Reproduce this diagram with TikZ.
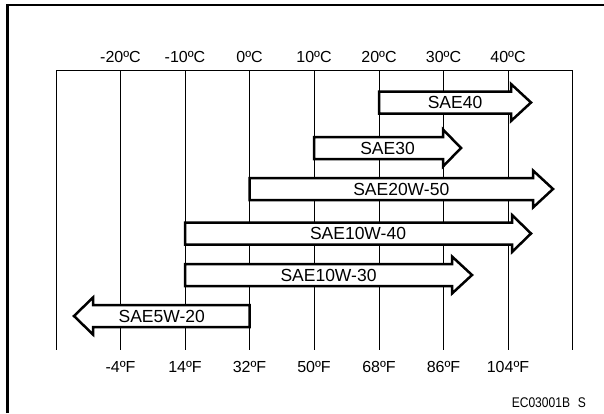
\documentclass[tikz,border=0pt]{standalone}
\usepackage{fontspec}
\setmainfont{Liberation Sans}
\usepackage{tikz}
\def\oilarrow[#1](#2:#3:#4:#5)#6#7{\draw[#1] (#2,#5-11) -- (#3,#5-11) -- (#3,#5-18.5) -- (#4,#5) -- (#3,#5+18.5) -- (#3,#5+11) -- (#2,#5+11) -- cycle; \node[inner sep=0pt] (#6) at ({(#2+#4)/2},#5) {\fontsize{17.5}{20}\selectfont #7};}

\begin{document}
\begin{tikzpicture}[x=1pt, y=-1pt]
			%%%%% START %%%%%
			\useasboundingbox (0, 0) rectangle (604, 413);
			
			\draw[line width=2.5pt] (7.5, 413) -- (7.5, 5) -- (604, 5);
			
			\draw[line width=0.9pt] (56, 70.5) -- (572.5, 70.5);
			\draw[line width=0.9pt] (56, 70.5) -- (56, 350);
			\draw[line width=0.9pt] (120.5, 70.5) -- (120.5, 350);
			\draw[line width=0.9pt] (185, 70.5) -- (185, 350);
			\draw[line width=0.9pt] (249.5, 70.5) -- (249.5, 350);
			\draw[line width=0.9pt] (314, 70.5) -- (314, 350);
			\draw[line width=0.9pt] (379, 70.5) -- (379, 350);
			\draw[line width=0.9pt] (443.5, 70.5) -- (443.5, 350);
			\draw[line width=0.9pt] (508, 70.5) -- (508, 350);
			\draw[line width=0.9pt] (572.5, 70.5) -- (572.5, 350);
			
			\node (c1) at (120.5, 57) {\fontsize{16}{19}\selectfont -20ºC};
			\node (c2) at (185, 57) {\fontsize{16}{19}\selectfont -10ºC};
			\node (c3) at (249.5, 57) {\fontsize{16}{19}\selectfont 0ºC};
			\node (c4) at (314, 57) {\fontsize{16}{19}\selectfont 10ºC};
			\node (c5) at (379, 57) {\fontsize{16}{19}\selectfont 20ºC};
			\node (c6) at (443.5, 57) {\fontsize{16}{19}\selectfont 30ºC};
			\node (c7) at (508, 57) {\fontsize{16}{19}\selectfont 40ºC};
			
			\oilarrow[line width=2.5pt, miter limit=10, fill=white](379:511:531:102.5){sae40}{SAE40}
			\oilarrow[line width=2.5pt, miter limit=10, fill=white](314:443:461:148){sae30}{SAE30}
			\oilarrow[line width=2.5pt, miter limit=10, fill=white](249.5:533:553:189){sae20w50}{SAE20W-50}
			\oilarrow[line width=2.5pt, miter limit=10, fill=white](185:512:531:233.5){sae10w40}{SAE10W-40}
			\oilarrow[line width=2.5pt, miter limit=10, fill=white](185:452:472:275){sae10w30}{SAE10W-30}
			\oilarrow[line width=2.5pt, miter limit=10, fill=white](249.5:93:74:316){sae5w20}{SAE5W-20}
			
			\node (f1) at (120.5, 367) {\fontsize{16}{19}\selectfont -4ºF};
			\node (f2) at (185, 367) {\fontsize{16}{19}\selectfont 14ºF};
			\node (f3) at (249.5, 367) {\fontsize{16}{19}\selectfont 32ºF};
			\node (f4) at (314, 367) {\fontsize{16}{19}\selectfont 50ºF};
			\node (f5) at (379, 367) {\fontsize{16}{19}\selectfont 68ºF};
			\node (f6) at (443.5, 367) {\fontsize{16}{19}\selectfont 86ºF};
			\node (f7) at (508, 367) {\fontsize{16}{19}\selectfont 104ºF};
			
			\node[anchor=east, inner sep=0pt, xscale=0.86] (code) at (586, 403) {\fontsize{14}{16}\selectfont EC03001B\hspace{9pt}S};
			
			%%%%% END %%%%%
\end{tikzpicture}
\end{document}
